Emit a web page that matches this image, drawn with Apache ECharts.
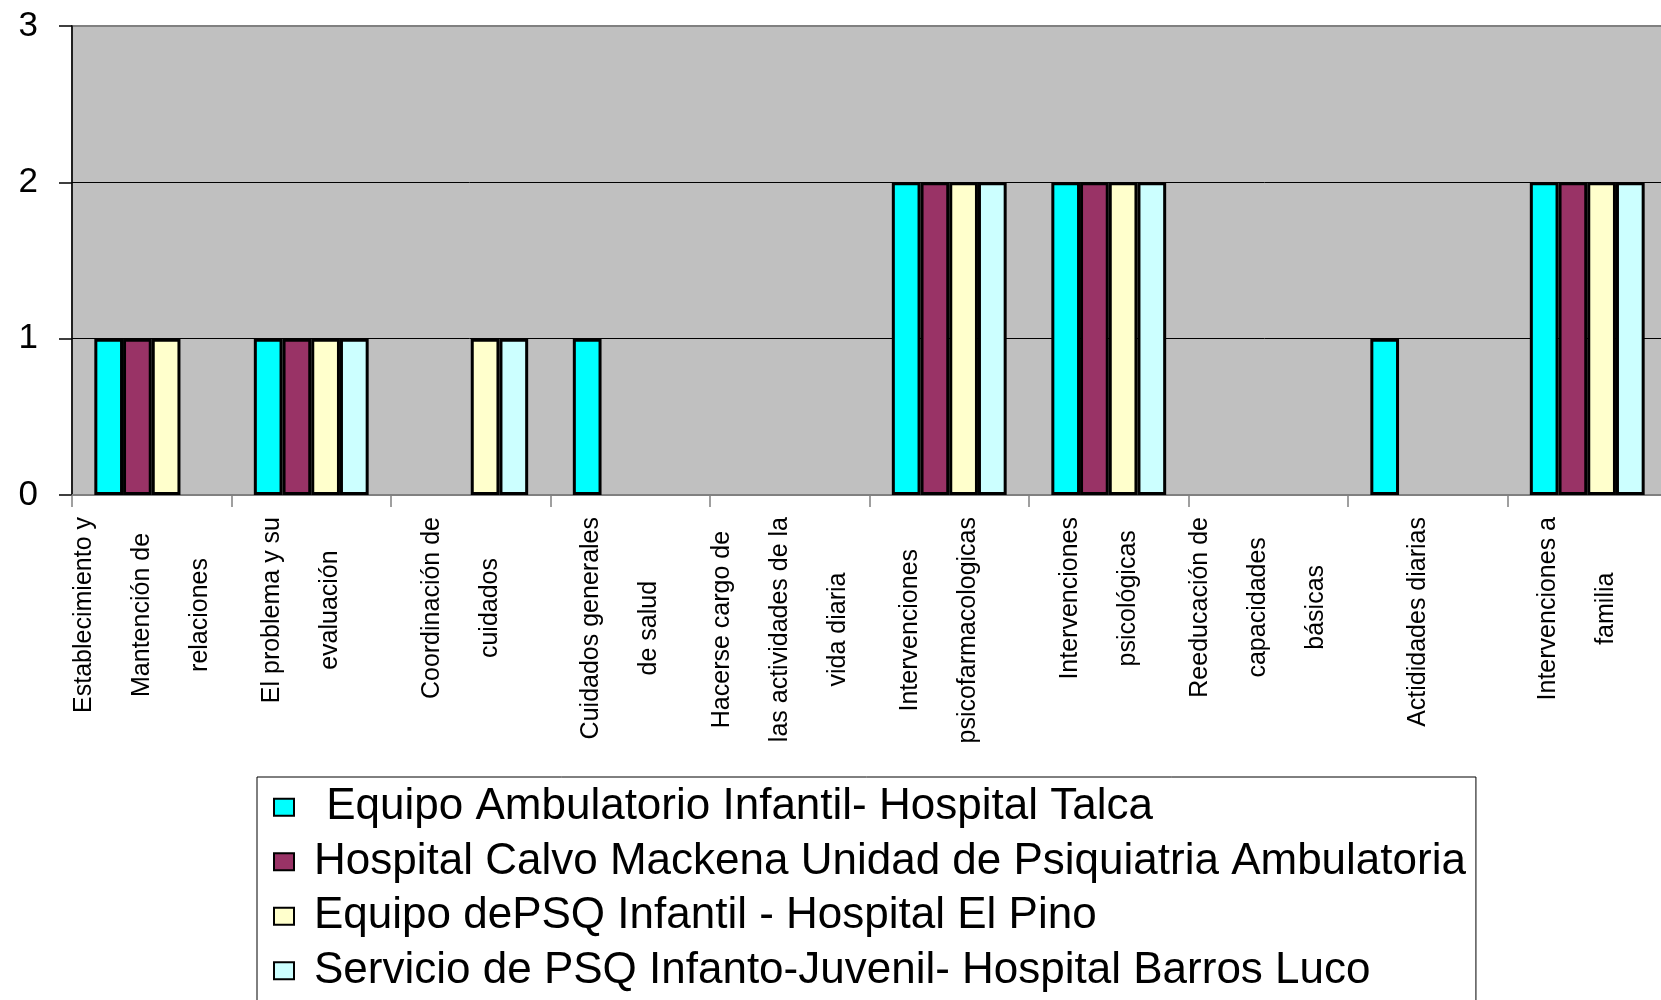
<!DOCTYPE html>
<html>
<head>
<meta charset="utf-8">
<title>Intervenciones por equipo</title>
<script src="https://cdn.jsdelivr.net/npm/echarts@6.0.0/dist/echarts.min.js"></script>
<style>
  html, body { margin: 0; padding: 0; background: #fff; }
  #chart { width: 1661px; height: 1000px; }
</style>
</head>
<body>
<div id="chart"></div>
<script>
// categorias (eje x), cada linea del rotulo separada por \n
const categories = [
  'Establecimiento y\nMantención de\nrelaciones',
  'El problema y su\nevaluación',
  'Coordinación de\ncuidados',
  'Cuidados generales\nde salud',
  'Hacerse cargo de\nlas actividades de la\nvida diaria',
  'Intervenciones\npsicofarmacologicas',
  'Intervenciones\npsicológicas',
  'Reeducación de\ncapacidades\nbásicas',
  'Actididades diarias',
  'Intervenciones a\nfamilia'
]
const seriesNames = [
  ' Equipo Ambulatorio Infantil- Hospital Talca',
  'Hospital Calvo Mackena Unidad de Psiquiatria Ambulatoria',
  'Equipo dePSQ Infantil - Hospital El Pino',
  'Servicio de PSQ Infanto-Juvenil- Hospital Barros Luco'
]
const talca = [1, 1, 0, 1, 0, 2, 2, 0, 1, 2]
const calvoMackena = [1, 1, 0, 0, 0, 2, 2, 0, 0, 2]
const elPino = [1, 1, 1, 0, 0, 2, 2, 0, 0, 2]
const barrosLuco = [0, 1, 1, 0, 0, 2, 2, 0, 0, 2]
const yTicks = [0, 1, 2, 3]

const colors = ['#00FFFF', '#993366', '#FFFFCC', '#CCFFFF']
const font = 'Liberation Sans, Arial, sans-serif'

const dom = document.getElementById('chart')
const myChart = echarts.init(dom)

const series = [talca, calvoMackena, elPino, barrosLuco].map((data, i) => ({
  name: seriesNames[i],
  type: 'bar',
  // las barras en cero no llevan borde (como en el original)
  data: data.map(v => v === 0 ? { value: v, itemStyle: { borderWidth: 0 } } : v),
  barGap: '0%',
  barCategoryGap: '28%',
  itemStyle: {
    color: colors[i],
    borderColor: '#000',
    borderWidth: 3
  }
}))

const option = {
  animation: false,
  backgroundColor: '#fff',
  grid: {
    left: 72,
    top: 26,
    right: -6,
    bottom: 505,
    show: true,
    backgroundColor: '#C0C0C0',
    borderColor: '#808080',
    borderWidth: 2,
    outerBoundsMode: 'none'
  },
  legend: {
    orient: 'vertical',
    left: 257,
    top: 777,
    height: 300,
    data: seriesNames,
    icon: 'rect',
    itemWidth: 20,
    itemHeight: 17,
    itemGap: 10,
    padding: [8, 10, 40, 16],
    borderColor: '#000',
    borderWidth: 1,
    itemStyle: {
      borderColor: '#000',
      borderWidth: 2
    },
    textStyle: {
      color: '#000',
      fontFamily: font,
      fontSize: 44,
      lineHeight: 44.5,
      padding: [0, 0, 0, 15]
    }
  },
  xAxis: {
    type: 'category',
    data: categories,
    axisLine: {
      lineStyle: { color: '#808080', width: 2 }
    },
    axisTick: {
      show: true,
      alignWithLabel: false,
      length: 12,
      lineStyle: { color: '#808080', width: 1.5 }
    },
    axisLabel: {
      interval: 0,
      rotate: 90,
      margin: 22,
      padding: [0, 0, 20, 0],
      formatter: function (value) {
        // cada linea centrada dentro del bloque
        return value.split('\n').map(l => '{c|' + l + '}').join('\n')
      },
      rich: {
        c: {
          align: 'center',
          color: '#000',
          fontFamily: font,
          fontSize: 25,
          lineHeight: 58
        }
      }
    }
  },
  yAxis: {
    type: 'value',
    min: yTicks[0],
    max: yTicks[yTicks.length - 1],
    interval: 1,
    axisLine: {
      show: true,
      lineStyle: { color: '#000', width: 1.5 }
    },
    axisTick: {
      show: true,
      length: 13,
      lineStyle: { color: '#000', width: 1.5 }
    },
    splitLine: {
      show: true,
      showMinLine: false,
      showMaxLine: false,
      lineStyle: { color: '#000', width: 1 }
    },
    axisLabel: {
      color: '#000',
      fontFamily: font,
      fontSize: 35,
      margin: 34
    }
  },
  series
}

myChart.setOption(option)
</script>
</body>
</html>
